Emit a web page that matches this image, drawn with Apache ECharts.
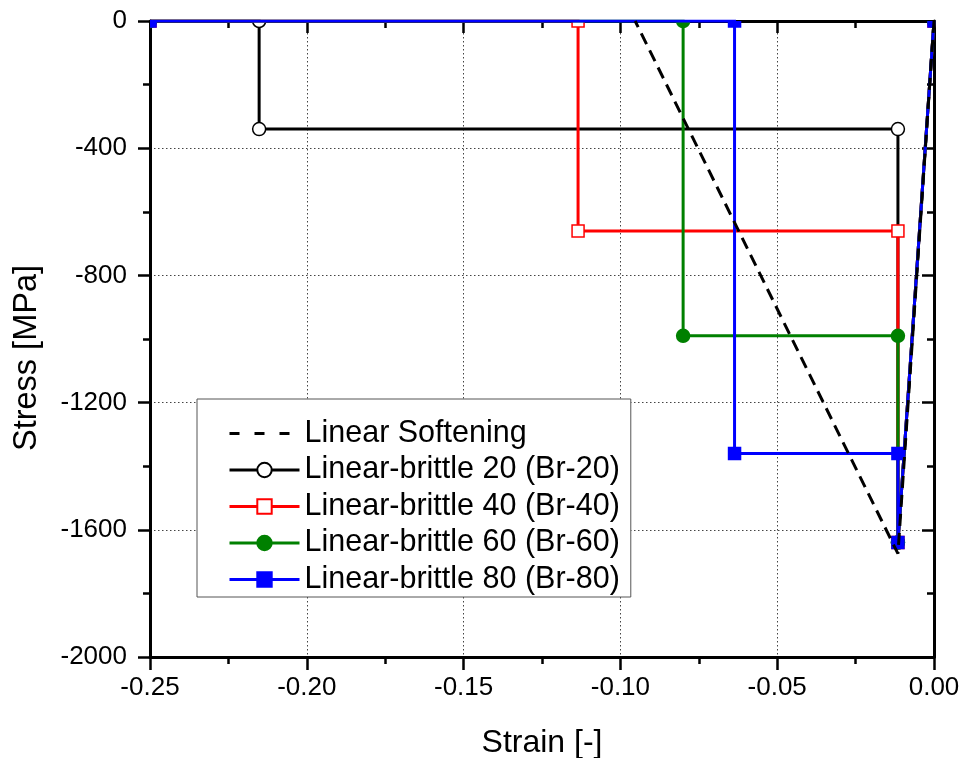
<!DOCTYPE html>
<html>
<head>
<meta charset="utf-8">
<script src="https://cdn.jsdelivr.net/npm/echarts@6/dist/echarts.min.js"></script>
<style>
  html, body { margin: 0; padding: 0; background: #fff; }
  #chart { width: 962px; height: 758px; }
</style>
</head>
<body>
<div id="chart"></div>
<script>
// Stress–strain responses: linear softening vs. linear-brittle variants
const seriesNames = [
  'Linear Softening',
  'Linear-brittle 20 (Br-20)',
  'Linear-brittle 40 (Br-40)',
  'Linear-brittle 60 (Br-60)',
  'Linear-brittle 80 (Br-80)'
];

// [strain, stress in MPa]
const softening = [[0, 0], [-0.0115, -1675], [-0.0953, 0]];
const br20 = [[0, 0], [-0.0115, -1640], [-0.0115, -340], [-0.2152, -340], [-0.2152, 0], [-0.25, 0]];
const br40 = [[0, 0], [-0.0115, -1640], [-0.0115, -660], [-0.1135, -660], [-0.1135, 0], [-0.25, 0]];
const br60 = [[0, 0], [-0.0115, -1640], [-0.0115, -990], [-0.0800, -990], [-0.0800, 0], [-0.25, 0]];
const br80 = [[0, 0], [-0.0115, -1640], [-0.0115, -1360], [-0.0636, -1360], [-0.0636, 0], [-0.25, 0]];

const xTicks = { min: -0.25, max: 0, interval: 0.05 };
const yTicks = { min: -2000, max: 0, interval: 400 };

const FONT = 'Liberation Sans, Arial, sans-serif';

const chart = echarts.init(document.getElementById('chart'), null, { renderer: 'canvas' });

const axisLine = { show: true, onZero: false, lineStyle: { color: '#000', width: 3 } };
const dotted = { show: true, showMinLine: false, showMaxLine: false,
  lineStyle: { color: '#444', width: 1, type: [1.5, 2.5] } };
const tickStyle = { color: '#000', width: 2.5 };

// Line for one brittle curve; markers are drawn by a clipped custom series
function brittleLine(name, data, color, symbol, fill, z) {
  return {
    name, type: 'line', data,
    symbol, symbolSize: 13, showSymbol: false,
    lineStyle: { color, width: 3, join: 'miter' },
    itemStyle: { color: fill, borderColor: color, borderWidth: 1.5 },
    emphasis: { disabled: true },
    z
  };
}

function brittleMarkers(name, data, color, symbol, fill, z) {
  return {
    name: name + ' markers', type: 'custom', data,
    clip: true,
    z: z + 0.05,
    silent: true,
    renderItem(params, api) {
      const p = api.coord([api.value(0), api.value(1)]);
      const style = { fill, stroke: color, lineWidth: 1.5 };
      if (symbol === 'circle') {
        return { type: 'circle', shape: { cx: p[0], cy: p[1], r: 6.5 }, style };
      }
      return { type: 'rect', shape: { x: p[0] - 6, y: p[1] - 6, width: 12, height: 12 }, style };
    }
  };
}

const specs = [
  [seriesNames[1], br20, '#000000', 'circle', '#ffffff', 3.0],
  [seriesNames[2], br40, '#ff0000', 'rect', '#ffffff', 3.1],
  [seriesNames[3], br60, '#008000', 'circle', '#008000', 3.2],
  [seriesNames[4], br80, '#0000ff', 'rect', '#0000ff', 3.3]
];

const series = [];
specs.forEach(s => {
  series.push(brittleLine(...s));
  series.push(brittleMarkers(...s));
});
series.push({
  name: seriesNames[0], type: 'line', data: softening,
  symbol: 'none',
  lineStyle: { color: '#000', width: 3, type: [12, 7] },
  itemStyle: { color: '#000' },
  emphasis: { disabled: true },
  z: 4
});

chart.setOption({
  animation: false,
  backgroundColor: '#fff',
  grid: { left: 150, right: 28, top: 21, bottom: 101, containLabel: false, outerBoundsMode: 'none' },
  xAxis: [
    {
      type: 'value', position: 'bottom',
      min: xTicks.min, max: xTicks.max, interval: xTicks.interval,
      name: 'Strain [-]', nameLocation: 'middle', nameGap: 70,
      nameTextStyle: { fontFamily: FONT, fontSize: 32, color: '#000' },
      axisLine,
      axisTick: { show: true, inside: false, length: 13, lineStyle: tickStyle },
      minorTick: { show: true, splitNumber: 2, length: 7, lineStyle: tickStyle },
      axisLabel: { show: true, margin: 18, fontFamily: FONT, fontSize: 26, color: '#000',
        formatter: v => v.toFixed(2) },
      splitLine: dotted
    },
    {
      type: 'value', position: 'top',
      min: xTicks.min, max: xTicks.max, interval: xTicks.interval,
      axisLine,
      axisTick: { show: true, inside: true, length: 12, lineStyle: tickStyle },
      minorTick: { show: true, splitNumber: 2, length: 7, lineStyle: tickStyle },
      axisLabel: { show: false },
      splitLine: { show: false }
    }
  ],
  yAxis: [
    {
      type: 'value', position: 'left',
      min: yTicks.min, max: yTicks.max, interval: yTicks.interval,
      name: 'Stress [MPa]', nameLocation: 'middle', nameGap: 106, nameRotate: 90,
      nameTextStyle: { fontFamily: FONT, fontSize: 32.5, color: '#000', padding: [0, 38, 0, 0] },
      axisLine,
      axisTick: { show: true, inside: false, length: 12, lineStyle: tickStyle },
      minorTick: { show: true, splitNumber: 2, length: 7, lineStyle: tickStyle },
      axisLabel: { show: true, margin: 23, fontFamily: FONT, fontSize: 26, color: '#000',
        formatter: v => String(v) },
      splitLine: dotted
    },
    {
      type: 'value', position: 'right',
      min: yTicks.min, max: yTicks.max, interval: yTicks.interval,
      axisLine,
      axisTick: { show: true, inside: true, length: 12, lineStyle: tickStyle },
      minorTick: { show: true, splitNumber: 2, length: 7, lineStyle: tickStyle },
      axisLabel: { show: false },
      splitLine: { show: false }
    }
  ],
  legend: {
    orient: 'vertical',
    left: 197, top: 399,
    padding: [19, 11, 2, 31],
    itemWidth: 70, itemHeight: 18, itemGap: 5.5,
    backgroundColor: '#fff',
    borderColor: '#555', borderWidth: 1, borderRadius: 0,
    selectedMode: false,
    lineStyle: { width: 3 },
    textStyle: { fontFamily: FONT, fontSize: 30.5, color: '#000', lineHeight: 30 },
    data: [
      { name: seriesNames[0], itemStyle: { opacity: 0 }, lineStyle: { type: [10, 15] } },
      seriesNames[1], seriesNames[2], seriesNames[3], seriesNames[4]
    ]
  },
  series
});
</script>
</body>
</html>
